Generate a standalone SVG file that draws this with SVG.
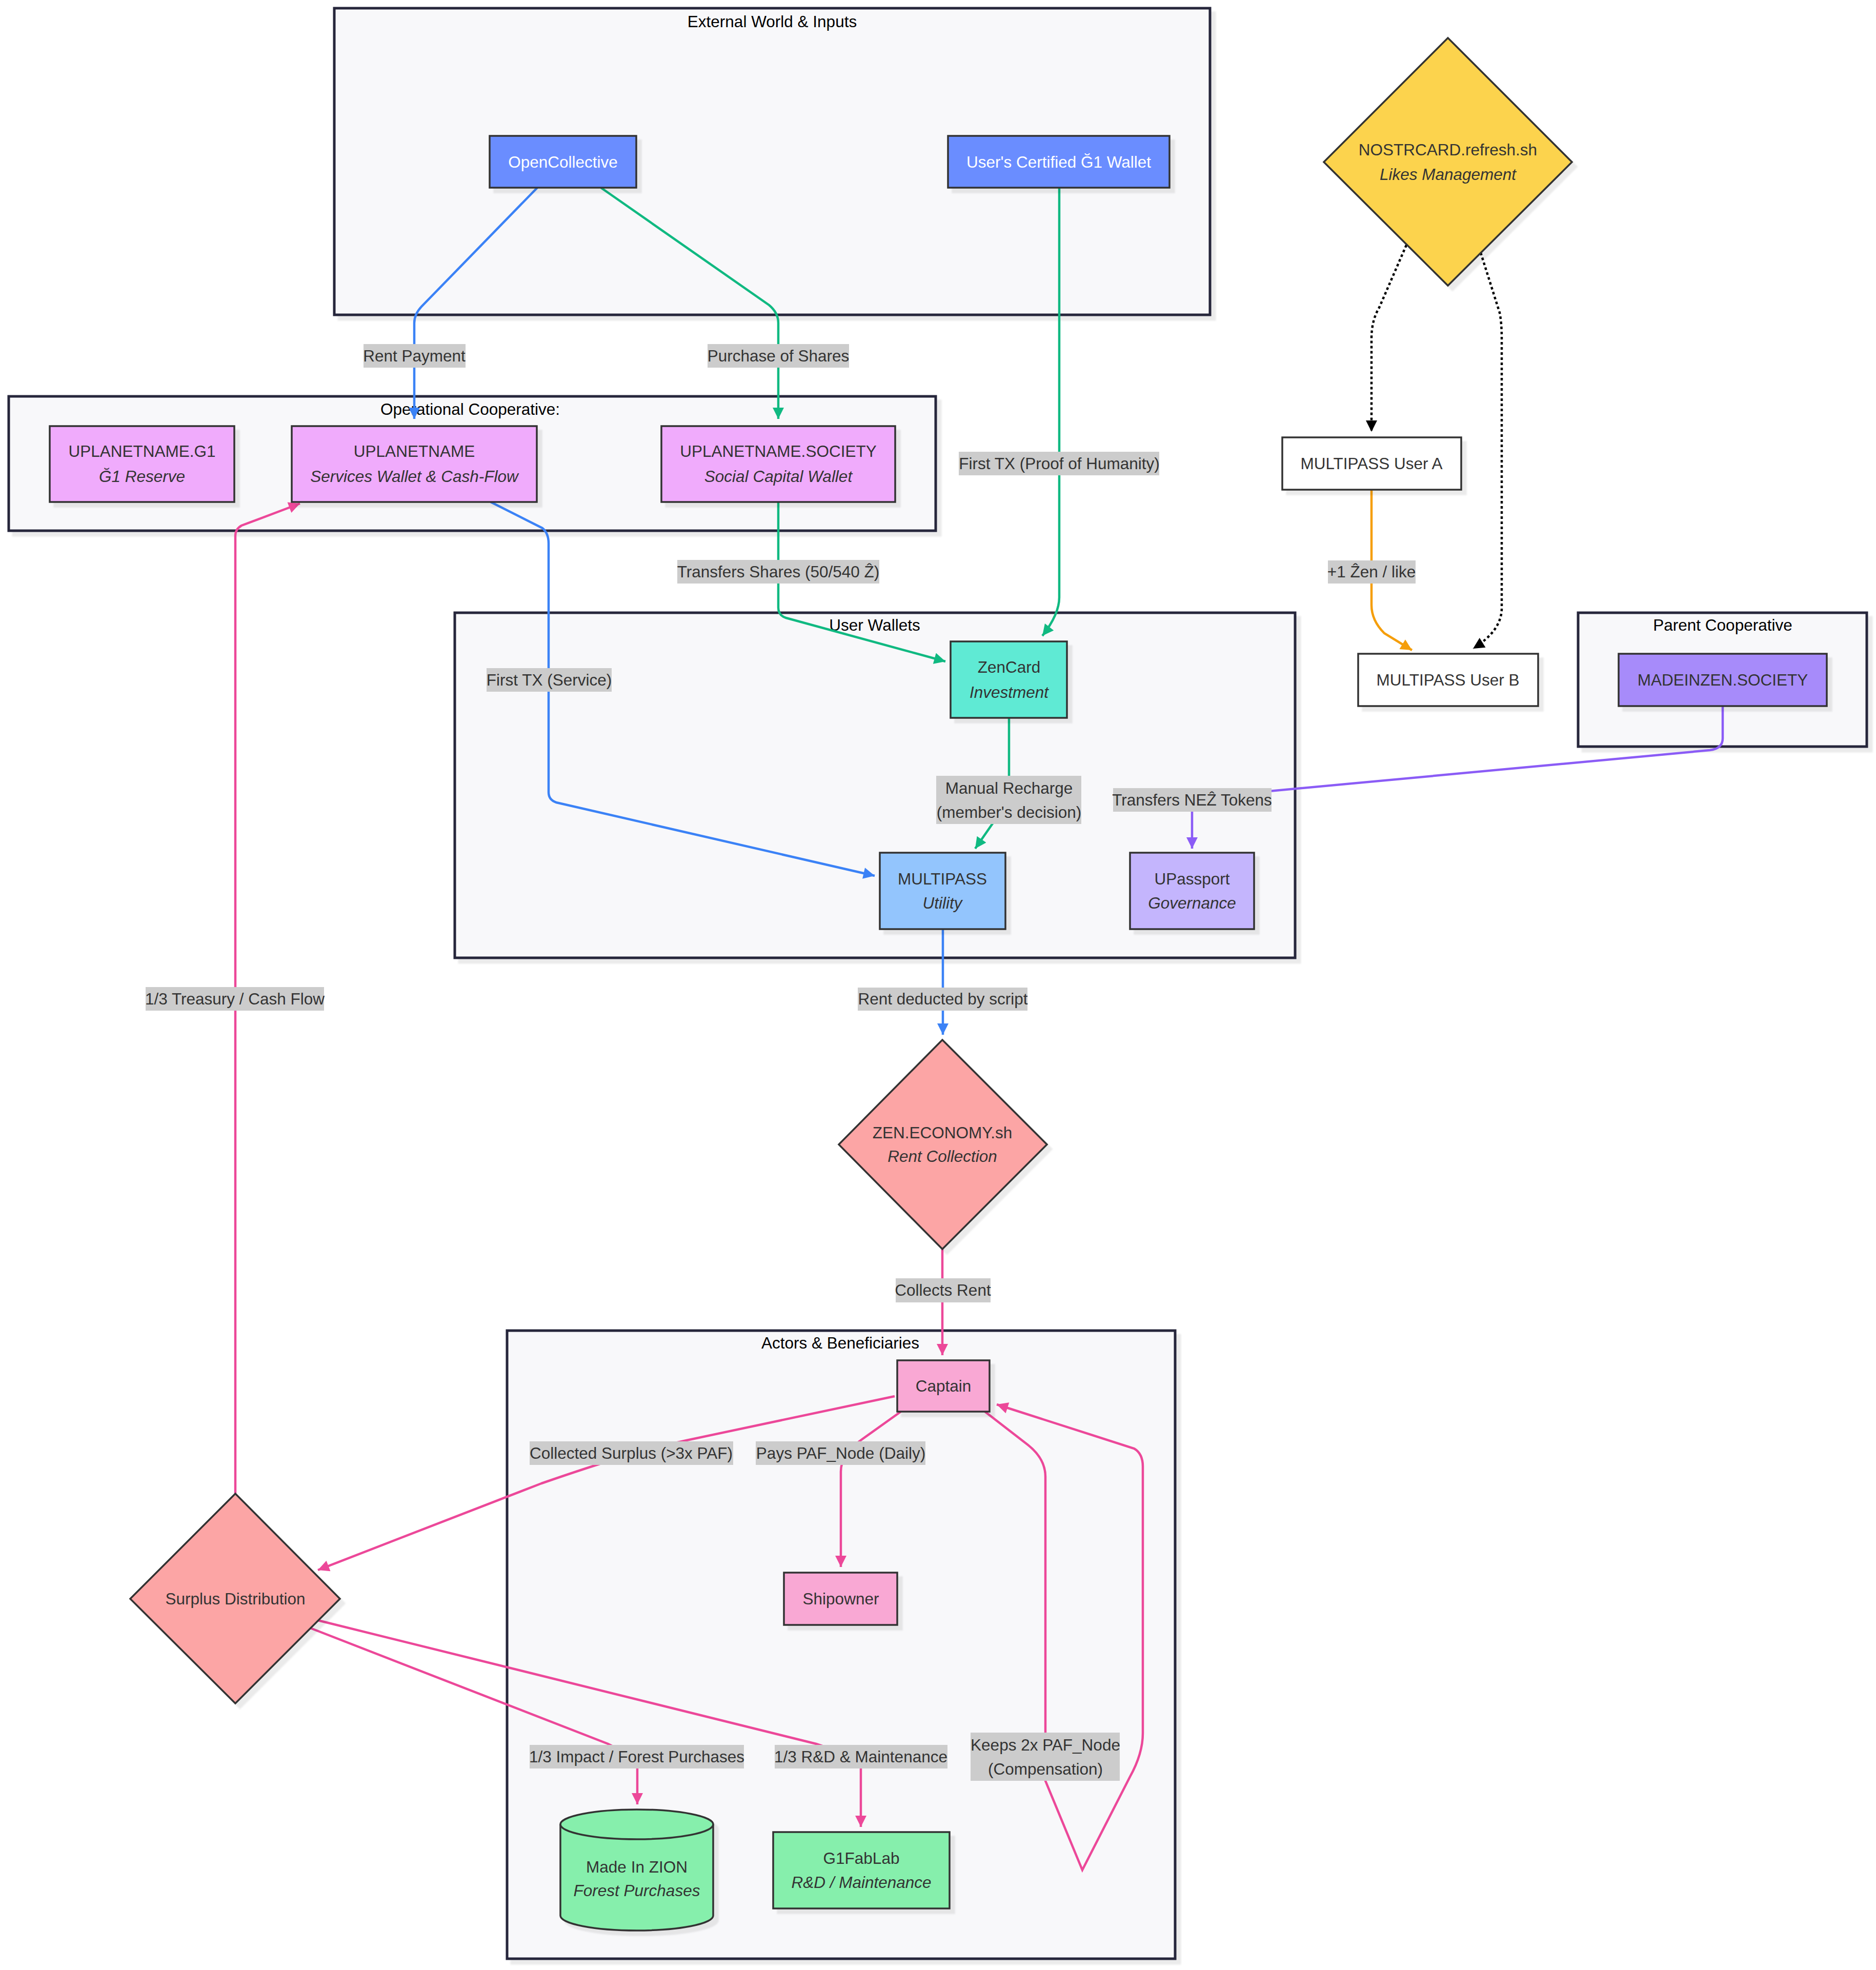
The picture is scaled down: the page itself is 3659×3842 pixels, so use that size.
<svg xmlns="http://www.w3.org/2000/svg" width="3659" height="3842" viewBox="0 0 3659 3842">
<style>
text{font-family:"Liberation Sans",Arial,sans-serif;font-size:31.5px;fill:#333;text-anchor:middle;dominant-baseline:central}
.it{font-style:italic}
.w{fill:#fff}
.ct{fill:#000}
.cl{fill:#f8f8fa;stroke:#25253a;stroke-width:5}
.n{stroke:#333;stroke-width:3.5}
.e{fill:none;stroke-width:4.5}
.lb{fill:#cccccc}
.sh{filter:url(#sh)}
</style>
<defs>
<filter id="sh" x="-10%" y="-10%" width="130%" height="130%"><feDropShadow dx="9" dy="9" stdDeviation="1.5" flood-color="#000" flood-opacity="0.08"/></filter>
<marker id="mb" viewBox="0 0 10 10" refX="10" refY="5" markerWidth="26" markerHeight="22" markerUnits="userSpaceOnUse" orient="auto"><path d="M0,0L10,5L0,10z" fill="#3b82f6"/></marker>
<marker id="mg" viewBox="0 0 10 10" refX="10" refY="5" markerWidth="26" markerHeight="22" markerUnits="userSpaceOnUse" orient="auto"><path d="M0,0L10,5L0,10z" fill="#10b981"/></marker>
<marker id="mp" viewBox="0 0 10 10" refX="10" refY="5" markerWidth="26" markerHeight="22" markerUnits="userSpaceOnUse" orient="auto"><path d="M0,0L10,5L0,10z" fill="#ec4899"/></marker>
<marker id="mv" viewBox="0 0 10 10" refX="10" refY="5" markerWidth="26" markerHeight="22" markerUnits="userSpaceOnUse" orient="auto"><path d="M0,0L10,5L0,10z" fill="#8b5cf6"/></marker>
<marker id="mo" viewBox="0 0 10 10" refX="10" refY="5" markerWidth="26" markerHeight="22" markerUnits="userSpaceOnUse" orient="auto"><path d="M0,0L10,5L0,10z" fill="#f59e0b"/></marker>
<marker id="mk" viewBox="0 0 10 10" refX="10" refY="5" markerWidth="26" markerHeight="22" markerUnits="userSpaceOnUse" orient="auto"><path d="M0,0L10,5L0,10z" fill="#000"/></marker>
</defs>
<rect width="3659" height="3842" fill="#fff"/>

<g id="clusters">
<g id="cluster-external"><rect class="cl sh" x="652" y="16" width="1708" height="598"/><text class="ct" x="1506" y="42">External World &amp; Inputs</text></g>
<g id="cluster-operational"><rect class="cl sh" x="17" y="773" width="1808" height="262"/><text class="ct" x="917" y="798">Operational Cooperative:</text></g>
<g id="cluster-wallets"><rect class="cl sh" x="887" y="1195" width="1639" height="673"/><text class="ct" x="1706" y="1219">User Wallets</text></g>
<g id="cluster-parent"><rect class="cl sh" x="3078" y="1195" width="563" height="261"/><text class="ct" x="3360" y="1219">Parent Cooperative</text></g>
<g id="cluster-actors"><rect class="cl sh" x="989" y="2595" width="1303" height="1225"/><text class="ct" x="1639" y="2619">Actors &amp; Beneficiaries</text></g>
</g>

<g id="connectors">
<path class="e" stroke="#3b82f6" marker-end="url(#mb)" d="M1048,366 L822,598 Q808,613 808,630 L808,817"/>
<path class="e" stroke="#10b981" marker-end="url(#mg)" d="M1172,366 L1500,595 Q1518,610 1518,630 L1518,817"/>
<path class="e" stroke="#10b981" marker-end="url(#mg)" d="M2066,366 L2066,1165 Q2066,1198 2033,1240"/>
<path class="e" stroke="#10b981" marker-end="url(#mg)" d="M1518,979 L1518,1185 Q1518,1200 1533,1205 L1844,1290"/>
<path class="e" stroke="#3b82f6" marker-end="url(#mb)" d="M957,979 L1058,1030 Q1070,1040 1070,1060 L1070,1545 Q1070,1560 1085,1565 L1706,1708"/>
<path class="e" stroke="#10b981" marker-end="url(#mg)" d="M1968,1400 L1968,1560 L1902,1655"/>
<path class="e" stroke="#8b5cf6" marker-end="url(#mv)" d="M3360,1377 L3360,1440 Q3360,1460 3335,1463 L2325,1557 L2325,1655"/>
<path class="e" stroke="#3b82f6" marker-end="url(#mb)" d="M1839,1812 L1839,2018"/>
<path class="e" stroke="#ec4899" marker-end="url(#mp)" d="M1838,2436 L1838,2643"/>
<path class="e" stroke="#ec4899" marker-end="url(#mp)" d="M1745,2723 L1339,2809 C1260,2826 1180,2850 1056,2893 L620,3062"/>
<path class="e" stroke="#ec4899" marker-end="url(#mp)" d="M1757,2753 L1680,2808 Q1640,2836 1640,2870 L1640,3056"/>
<path class="e" stroke="#ec4899" marker-end="url(#mp)" d="M1921,2753 L2005,2818 Q2039,2845 2039,2880 L2039,3473 L2111,3647 L2204,3465 Q2229,3420 2229,3380 L2229,2860 Q2229,2835 2212,2825 L1944,2739"/>
<path class="e" stroke="#ec4899" marker-end="url(#mp)" d="M459,2913 L459,1045 Q459,1032 471,1025 L585,982"/>
<path class="e" stroke="#ec4899" marker-end="url(#mp)" d="M605,3175 L1186,3401 L1243,3430 L1243,3519"/>
<path class="e" stroke="#ec4899" marker-end="url(#mp)" d="M620,3160 L1592,3401 L1679,3430 L1679,3563"/>
<path class="e" stroke="#000" stroke-dasharray="5,5" marker-end="url(#mk)" d="M2743,478 L2690,600 Q2675,625 2675,660 L2675,842"/>
<path class="e" stroke="#000" stroke-dasharray="5,5" marker-end="url(#mk)" d="M2888,493 L2925,610 Q2929,630 2929,660 L2929,1186 Q2929,1230 2873,1265"/>
<path class="e" stroke="#f59e0b" marker-end="url(#mo)" d="M2675,955 L2675,1180 Q2675,1210 2700,1235 L2754,1268"/>
</g>

<g id="edge-labels">
<rect class="lb" x="709" y="671" width="199" height="46"/><text x="808" y="694">Rent Payment</text>
<rect class="lb" x="1380" y="671" width="276" height="46"/><text x="1518" y="694">Purchase of Shares</text>
<rect class="lb" x="1870" y="881" width="391" height="46"/><text x="2066" y="904">First TX (Proof of Humanity)</text>
<rect class="lb" x="1321" y="1092" width="394" height="46"/><text x="1518" y="1115">Transfers Shares (50/540 Ẑ)</text>
<rect class="lb" x="2590" y="1093" width="171" height="45"/><text x="2675" y="1115">+1 Ẑen / like</text>
<rect class="lb" x="949" y="1303" width="244" height="46"/><text x="1071" y="1326">First TX (Service)</text>
<rect class="lb" x="1826" y="1513" width="283" height="94"/><text x="1968" y="1537">Manual Recharge</text><text x="1968" y="1584">(member's decision)</text>
<rect class="lb" x="2171" y="1537" width="309" height="46"/><text x="2325" y="1560">Transfers NEẐ Tokens</text>
<rect class="lb" x="284" y="1925" width="348" height="46"/><text x="458" y="1948">1/3 Treasury / Cash Flow</text>
<rect class="lb" x="1673" y="1926" width="331" height="45"/><text x="1839" y="1948">Rent deducted by script</text>
<rect class="lb" x="1747" y="2493" width="185" height="47"/><text x="1839" y="2516">Collects Rent</text>
<rect class="lb" x="1033" y="2811" width="397" height="46"/><text x="1231" y="2834">Collected Surplus (&gt;3x PAF)</text>
<rect class="lb" x="1474" y="2811" width="331" height="46"/><text x="1640" y="2834">Pays PAF_Node (Daily)</text>
<rect class="lb" x="1033" y="3403" width="418" height="46"/><text x="1242" y="3426">1/3 Impact / Forest Purchases</text>
<rect class="lb" x="1511" y="3403" width="337" height="46"/><text x="1679" y="3426">1/3 R&amp;D &amp; Maintenance</text>
<rect class="lb" x="1893" y="3379" width="291" height="94"/><text x="2039" y="3403">Keeps 2x PAF_Node</text><text x="2039" y="3450">(Compensation)</text>
</g>

<g id="node-opencollective"><rect class="n sh" x="955" y="265" width="286" height="101" fill="#6a8dff"/><text class="w" x="1098" y="316">OpenCollective</text></g>
<g id="node-g1wallet"><rect class="n sh" x="1849" y="265" width="432" height="101" fill="#6a8dff"/><text class="w" x="2065" y="316">User's Certified Ğ1 Wallet</text></g>
<g id="node-uplanet-g1"><rect class="n sh" x="97" y="831" width="360" height="148" fill="#f0abfc"/><text x="277" y="880">UPLANETNAME.G1</text><text class="it" x="277" y="929">Ğ1 Reserve</text></g>
<g id="node-uplanet"><rect class="n sh" x="569" y="831" width="478" height="148" fill="#f0abfc"/><text x="808" y="880">UPLANETNAME</text><text class="it" x="808" y="929">Services Wallet &amp; Cash-Flow</text></g>
<g id="node-uplanet-society"><rect class="n sh" x="1290" y="831" width="456" height="148" fill="#f0abfc"/><text x="1518" y="880">UPLANETNAME.SOCIETY</text><text class="it" x="1518" y="929">Social Capital Wallet</text></g>
<g id="node-zencard"><rect class="n sh" x="1854" y="1251" width="227" height="149" fill="#5eead4"/><text x="1968" y="1301">ZenCard</text><text class="it" x="1968" y="1350">Investment</text></g>
<g id="node-multipass"><rect class="n sh" x="1716" y="1663" width="245" height="149" fill="#93c5fd"/><text x="1838" y="1714">MULTIPASS</text><text class="it" x="1838" y="1761">Utility</text></g>
<g id="node-upassport"><rect class="n sh" x="2204" y="1663" width="242" height="149" fill="#c4b5fd"/><text x="2325" y="1714">UPassport</text><text class="it" x="2325" y="1761">Governance</text></g>
<g id="node-nostrcard"><path class="n sh" d="M2824,74 L3066,316 L2824,557 L2582,316 Z" fill="#fcd34d"/><text x="2824" y="292">NOSTRCARD.refresh.sh</text><text class="it" x="2824" y="340">Likes Management</text></g>
<g id="node-user-a"><rect class="n sh" x="2501" y="853" width="349" height="102" fill="#fff"/><text x="2675" y="904">MULTIPASS User A</text></g>
<g id="node-user-b"><rect class="n sh" x="2649" y="1275" width="351" height="102" fill="#fff"/><text x="2824" y="1326">MULTIPASS User B</text></g>
<g id="node-madeinzen"><rect class="n sh" x="3157" y="1275" width="406" height="102" fill="#a78bfa"/><text x="3360" y="1326">MADEINZEN.SOCIETY</text></g>
<g id="node-zen-economy"><path class="n sh" d="M1838,2028 L2042,2232 L1838,2436 L1636,2232 Z" fill="#fca5a5"/><text x="1838" y="2209">ZEN.ECONOMY.sh</text><text class="it" x="1838" y="2255">Rent Collection</text></g>
<g id="node-captain"><rect class="n sh" x="1750" y="2653" width="180" height="100" fill="#f9a8d4"/><text x="1840" y="2703">Captain</text></g>
<g id="node-shipowner"><rect class="n sh" x="1529" y="3067" width="221" height="102" fill="#f9a8d4"/><text x="1640" y="3118">Shipowner</text></g>
<g id="node-surplus"><path class="n sh" d="M459,2913 L663,3118 L459,3322 L254,3118 Z" fill="#fca5a5"/><text x="459" y="3118">Surplus Distribution</text></g>
<g id="node-madeinzion"><path class="n sh" d="M1093,3558 A149,29 0 0 1 1391,3558 L1391,3736 A149,29 0 0 1 1093,3736 Z" fill="#86efac"/><path class="n" d="M1093,3558 A149,29 0 0 0 1391,3558" fill="none"/><text x="1242" y="3641">Made In ZION</text><text class="it" x="1242" y="3687">Forest Purchases</text></g>
<g id="node-g1fablab"><rect class="n sh" x="1508" y="3573" width="344" height="149" fill="#86efac"/><text x="1680" y="3624">G1FabLab</text><text class="it" x="1680" y="3671">R&amp;D / Maintenance</text></g>
</svg>
